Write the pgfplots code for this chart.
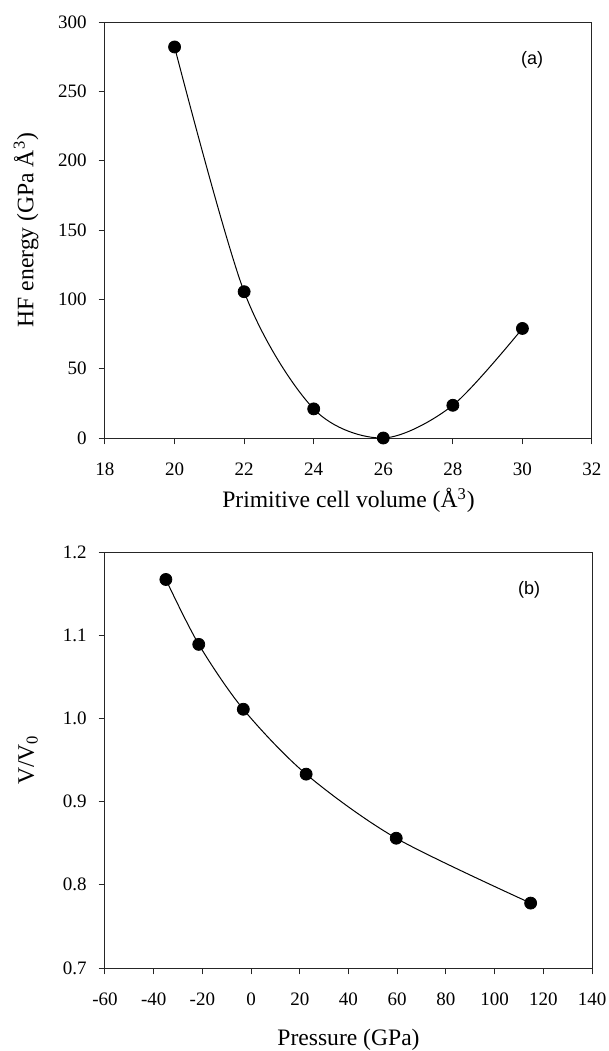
\documentclass[border=0pt]{standalone}
\usepackage{pgfplots}
\pgfplotsset{compat=1.18}
\usepackage{fontspec}
\setmainfont{Liberation Serif}
\newfontfamily\arial{Liberation Sans}

\pgfplotsset{
  panel/.style={
    width=243.5pt, height=208pt, scale only axis,
    axis line style={line width=0.5pt, black!85},
    tick style={line width=0.5pt, black!85},
    tick align=outside, major tick length=3.2pt,
    xtick pos=bottom, ytick pos=left,
    /pgf/number format/assume math mode=true,
    tick label style={font=\fontsize{9.5}{11}\selectfont},
    label style={font=\fontsize{11.8}{14}\selectfont},
    xticklabel style={yshift=-5.5pt},
    yticklabel style={xshift=-2.5pt},
  },
  curve/.style={smooth, line width=0.5pt, black, no marks},
  dots/.style={only marks, mark=*, mark size=3pt, black},
}

\begin{document}
\begin{tikzpicture}
  \useasboundingbox (-52.5pt,-306.5pt) rectangle (252pt,219pt);

  % (a) energy vs volume
  \begin{axis}[panel,
      xmin=18, xmax=32, ymin=0, ymax=300,
      xtick={18,20,...,32}, ytick={0,50,...,300},
      xlabel={Primitive cell volume (Å\textsuperscript{3})},
      ylabel={HF energy (GPa Å\textsuperscript{3})},
      xlabel style={at={(axis description cs:0.5,-0.15)}, anchor=center},
      ylabel style={at={(axis description cs:-0.162,0.5)}, anchor=center},
    ]
    \addplot[curve] coordinates {
      (20,282) (22,105.5) (24,21) (26,0) (28,23.6) (30,79)
    };
    \addplot[dots] coordinates {
      (20,282) (22,105.5) (24,21) (26,0) (28,23.6) (30,79)
    };
    \node[font=\arial\fontsize{9}{11}\selectfont] at (axis description cs:0.877,0.909) {(a)};
  \end{axis}

  % (b) V/V0 vs pressure
  \begin{axis}[panel, at={(0,-265pt)},
      xmin=-60, xmax=140, ymin=0.7, ymax=1.2,
      xtick={-60,-40,...,140}, ytick={0.7,0.8,0.9,1.0,1.1,1.2},
      yticklabel style={/pgf/number format/.cd, fixed, fixed zerofill, precision=1},
      xlabel={Pressure (GPa)},
      ylabel={V/V\textsubscript{0}},
      xlabel style={at={(axis description cs:0.5,-0.173)}, anchor=center},
      ylabel style={at={(axis description cs:-0.158,0.5)}, anchor=center},
    ]
    \addplot[curve] coordinates {
      (-35,1.167) (-21.5,1.089) (-3.2,1.011) (22.6,0.933) (59.6,0.856) (114.8,0.778)
    };
    \addplot[dots] coordinates {
      (-35,1.167) (-21.5,1.089) (-3.2,1.011) (22.6,0.933) (59.6,0.856) (114.8,0.778)
    };
    \node[font=\arial\fontsize{9}{11}\selectfont] at (axis description cs:0.871,0.91) {(b)};
  \end{axis}
\end{tikzpicture}
\end{document}
